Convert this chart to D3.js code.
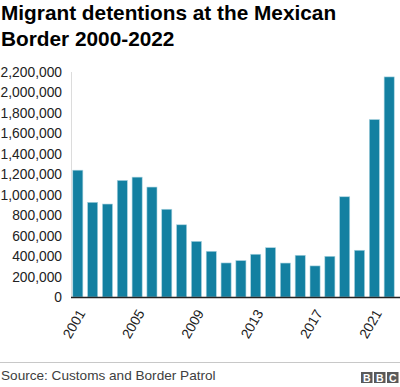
<!DOCTYPE html>
<html lang="en">
<head>
    <meta charset="UTF-8">
    <title>Migrant detentions at the Mexican Border 2000-2022</title>
    <script src="https://d3js.org/d3.v7.min.js"></script>
    <style>
        body { margin: 0; background: #fff; }
        svg { font-family: "Liberation Sans", Arial, Helvetica, sans-serif; display: block; }
        .title { font-weight: bold; font-size: 20.8px; fill: #000; }
        .tick-label { font-size: 13.8px; fill: #222; }
        .source { font-size: 13.6px; fill: #404040; }
    </style>
</head>
<body>
    <div id="chart"></div>

    <script>
        // data
        const years = [2001, 2002, 2003, 2004, 2005, 2006, 2007, 2008, 2009, 2010, 2011,
                       2012, 2013, 2014, 2015, 2016, 2017, 2018, 2019, 2020, 2021, 2022];
        const detentions = [1240000, 926000, 909000, 1140000, 1172000, 1075000, 858000, 706000,
                            544000, 447000, 333000, 356000, 418000, 482000, 332000, 408000,
                            304000, 398000, 980000, 457000, 1735000, 2152000];
        const yTicks = [0, 200000, 400000, 600000, 800000, 1000000, 1200000, 1400000,
                        1600000, 1800000, 2000000, 2200000];
        const xTickYears = [2001, 2005, 2009, 2013, 2017, 2021];

        const width = 400;
        const height = 387;
        const margin = { left: 71, top: 72 };
        const plotBottom = 297;

        const svg = d3.select('#chart').append('svg')
            .attr('width', width)
            .attr('height', height);

        // title
        const title = svg.append('text').attr('class', 'title');
        title.append('tspan').attr('x', 1).attr('y', 20).text('Migrant detentions at the Mexican');
        title.append('tspan').attr('x', 1).attr('y', 46).text('Border 2000-2022');

        const x = d3.scaleBand()
            .domain(years)
            .range([margin.left, 396])
            .paddingInner(0.32)
            .paddingOuter(0.12);

        const y = d3.scaleLinear()
            .domain([0, 2200000])
            .range([plotBottom, margin.top]);

        // light vertical axis line
        svg.append('line')
            .attr('x1', margin.left + 0.5).attr('x2', margin.left + 0.5)
            .attr('y1', y(2200000)).attr('y2', plotBottom)
            .attr('stroke', '#dcdcdc');

        // y labels
        svg.append('g')
            .selectAll('text')
            .data(yTicks)
            .join('text')
            .attr('class', 'tick-label')
            .attr('x', 62)
            .attr('y', d => y(d))
            .attr('dy', '0.36em')
            .attr('text-anchor', 'end')
            .text(d => d3.format(',')(d));

        // bars
        svg.append('g')
            .selectAll('rect')
            .data(years)
            .join('rect')
            .attr('x', d => x(d))
            .attr('width', x.bandwidth())
            .attr('y', (d, i) => y(detentions[i]))
            .attr('height', (d, i) => plotBottom - y(detentions[i]))
            .attr('fill', '#1380a1')
            .attr('stroke', '#a9d3e0')
            .attr('stroke-width', 0.6);

        // baseline
        svg.append('line')
            .attr('x1', margin.left).attr('x2', width)
            .attr('y1', plotBottom + 0.5).attr('y2', plotBottom + 0.5)
            .attr('stroke', '#222').attr('stroke-width', 1.5);

        // x labels, rotated
        svg.append('g')
            .selectAll('text')
            .data(xTickYears)
            .join('text')
            .attr('class', 'tick-label')
            .attr('text-anchor', 'end')
            .attr('transform', d => `translate(${x(d) + x.bandwidth() / 2 + 8},${plotBottom + 16}) rotate(-60)`)
            .text(d => d);

        // footer
        svg.append('line')
            .attr('x1', 0).attr('x2', width)
            .attr('y1', 362.5).attr('y2', 362.5)
            .attr('stroke', '#c8c8c8');

        svg.append('text')
            .attr('class', 'source')
            .attr('x', 1).attr('y', 379.5)
            .text('Source: Customs and Border Patrol');

        // BBC blocks
        const logo = svg.append('g').attr('transform', 'translate(361,372)');
        ['B', 'B', 'C'].forEach((ch, i) => {
            logo.append('rect')
                .attr('x', i * 13).attr('y', 0)
                .attr('width', 11.5).attr('height', 11)
                .attr('fill', '#5a5a5a');
            logo.append('text')
                .attr('x', i * 13 + 5.75).attr('y', 9.5)
                .attr('text-anchor', 'middle')
                .attr('font-size', 10.5).attr('font-weight', 'bold')
                .attr('fill', '#fff')
                .text(ch);
        });
    </script>
</body>
</html>
